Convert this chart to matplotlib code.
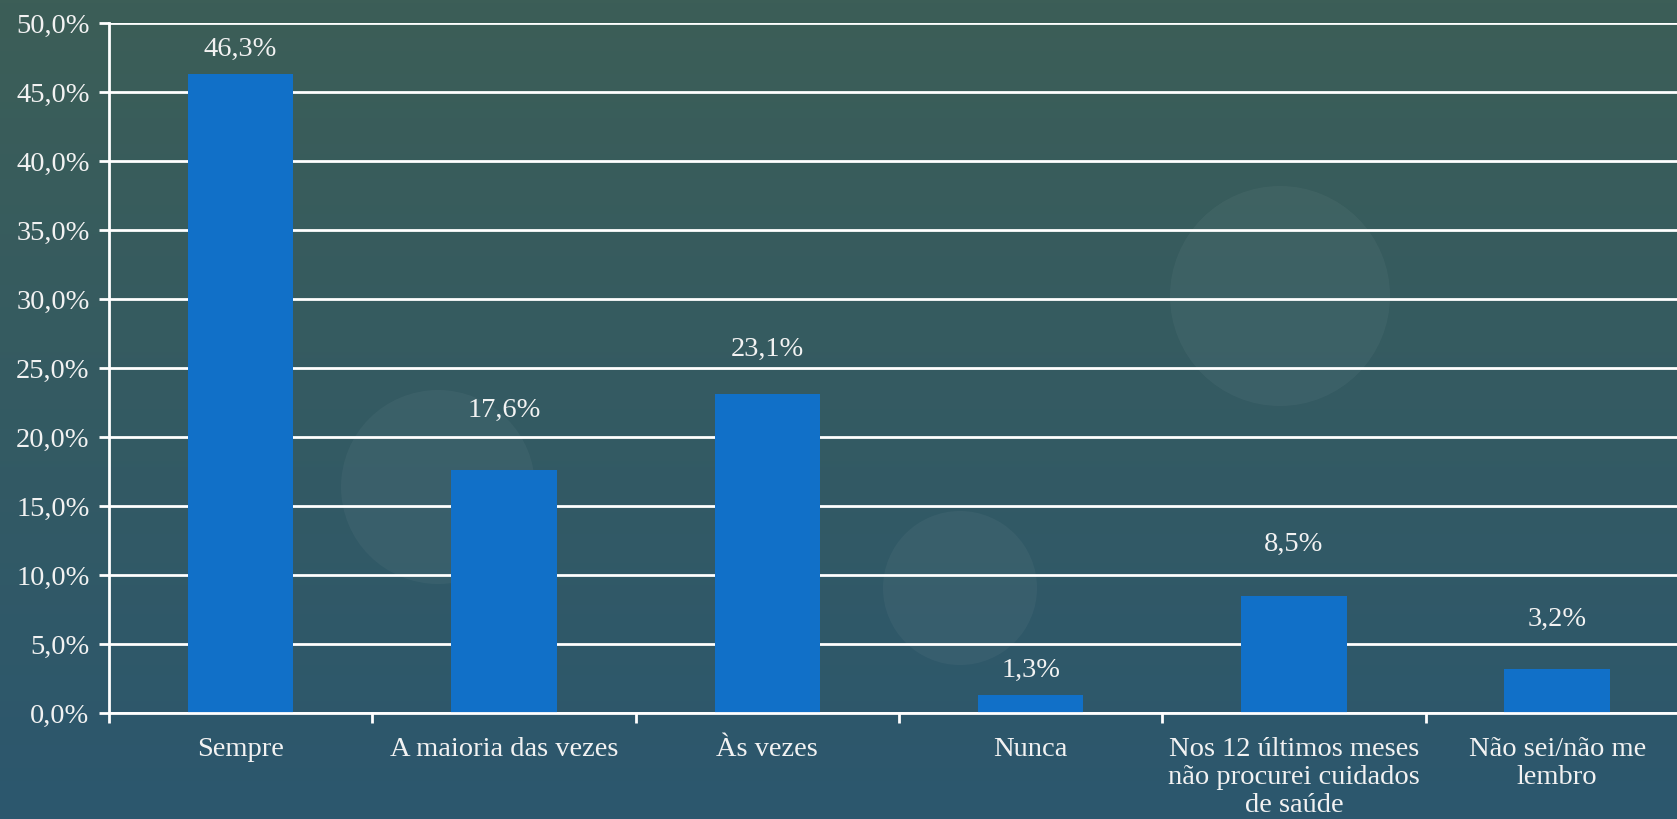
import matplotlib
matplotlib.use("Agg")
import matplotlib.pyplot as plt
import numpy as np
from matplotlib.patches import Ellipse

categories = ["Sempre", "A maioria das vezes", "Às vezes", "Nunca",
              "Nos 12 últimos meses\nnão procurei cuidados\nde saúde",
              "Não sei/não me\nlembro"]
values = [46.3, 17.6, 23.1, 1.3, 8.5, 3.2]
value_labels = ["46,3%", "17,6%", "23,1%", "1,3%", "8,5%", "3,2%"]
yticks = [0, 5, 10, 15, 20, 25, 30, 35, 40, 45, 50]
ytick_labels = ["0,0%", "5,0%", "10,0%", "15,0%", "20,0%", "25,0%",
                "30,0%", "35,0%", "40,0%", "45,0%", "50,0%"]

# label placement (style only): pixel gap between bar top and label centre
label_gap_px = [25, 60, 45, 25, 51, 49]

W, H = 1677, 819
fig = plt.figure(figsize=(W / 100, H / 100), dpi=100)

# background gradient
bg = fig.add_axes([0, 0, 1, 1], zorder=-10)
grad = np.linspace(0, 1, 256).reshape(-1, 1)
top = np.array([0x3c, 0x5e, 0x57]) / 255
bot = np.array([0x2c, 0x57, 0x6e]) / 255
img = top[None, None, :] * (1 - grad[:, :, None]) + bot[None, None, :] * grad[:, :, None]
img = np.repeat(img, 2, axis=1)
bg.imshow(img, aspect="auto", extent=[0, 1, 0, 1], origin="upper")
for (cx, cy, r) in [(1280, 296, 110), (438, 487, 97), (960, 588, 77)]:
    bg.add_patch(Ellipse((cx / W, 1 - cy / H), 2 * r / W, 2 * r / H,
                         transform=bg.transAxes, facecolor="white",
                         alpha=0.04, edgecolor="none"))
bg.set_xlim(0, 1); bg.set_ylim(0, 1)
bg.axis("off")

font = "Liberation Serif"
txtc = "#f2f2f2"
fs = 20.5

ax = fig.add_axes([109 / W, (H - 713) / H, 6 * 263.3 / W, 690 / H])
ax.patch.set_alpha(0)
x = np.arange(len(categories))
ax.bar(x, values, width=0.4, color="#1170c8", zorder=3)
ax.set_xlim(-0.5, len(categories) - 0.5)
ax.set_ylim(0, 50)
ax.set_yticks(yticks)
ax.set_yticklabels(ytick_labels, fontsize=fs, color=txtc, family=font)
ax.yaxis.grid(True, color="white", linewidth=2, zorder=1)
ax.set_axisbelow(True)
ax.set_xticks(x)
ax.set_xticklabels(categories, fontsize=fs, color=txtc, family=font,
                   linespacing=1.17, va="top")
ax.tick_params(axis="x", length=0, pad=17)
ax.set_xticks(np.arange(len(categories) + 1) - 0.5, minor=True)
ax.tick_params(axis="x", which="minor", length=7, width=2, color="white")
ax.tick_params(axis="y", length=7, width=2, color="white", pad=7)
for s in ["top", "right"]:
    ax.spines[s].set_visible(False)
for s in ["left", "bottom"]:
    ax.spines[s].set_color("white")
    ax.spines[s].set_linewidth(2)
    ax.spines[s].set_zorder(4)

for xi, v, lab, g in zip(x, values, value_labels, label_gap_px):
    ax.annotate(lab, (xi, v), xytext=(0, g * 0.72), textcoords="offset points",
                ha="center", va="center", fontsize=fs, color=txtc, family=font)

fig.savefig("out.png", dpi=100)
